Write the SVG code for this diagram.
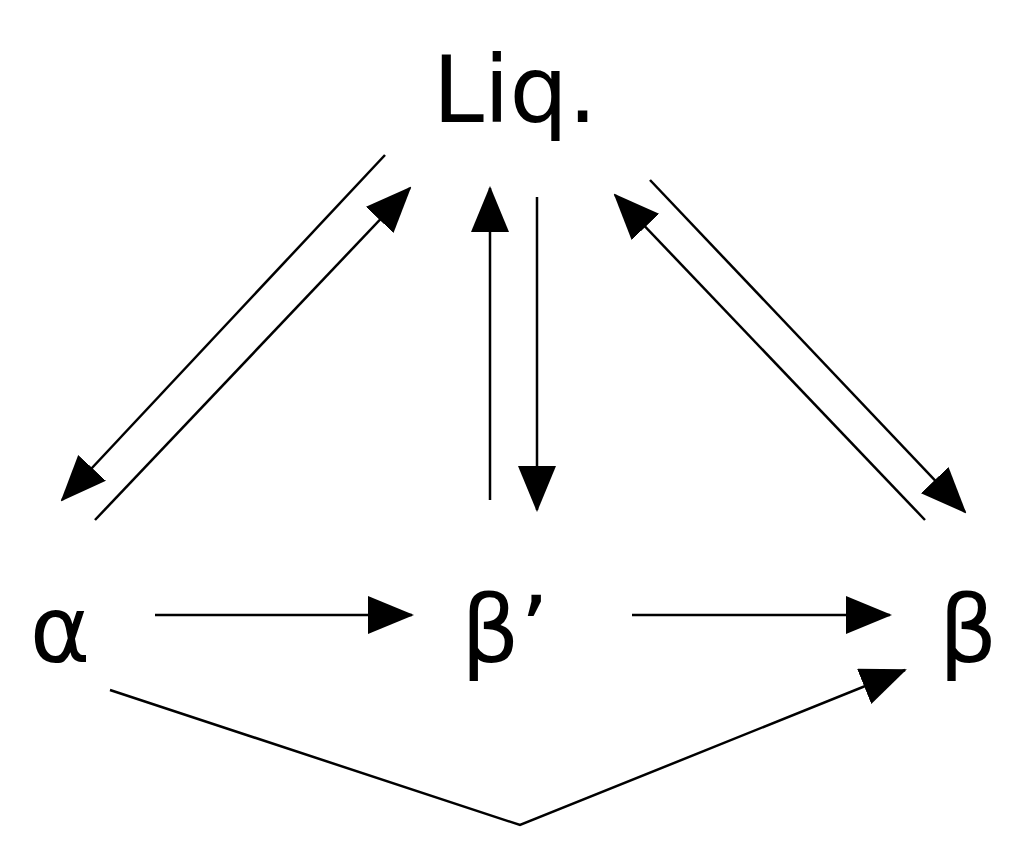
<svg xmlns="http://www.w3.org/2000/svg" width="1025" height="861" viewBox="0 0 1025 861">
<style>
text{font-family:"DejaVu Sans","Noto Sans",sans-serif;font-size:92px;fill:#000}
.c{stroke:#000;stroke-width:2.5;fill:none;marker-end:url(#a)}
</style>
<defs><marker id="a" markerUnits="userSpaceOnUse" markerWidth="46" markerHeight="40" refX="44" refY="19" orient="auto"><path d="M0,0 L46,19 L0,38 Z" fill="#000"/></marker></defs>
<rect width="1025" height="861" fill="#fff"/>
<g id="liq"><text x="515" y="122" text-anchor="middle">Liq.</text></g>
<g id="alpha"><text x="60" y="662" text-anchor="middle">α</text></g>
<g id="betap"><text x="505" y="662" text-anchor="middle">β’</text></g>
<g id="beta"><text x="968" y="662" text-anchor="middle">β</text></g>
<g id="connectors">
<path class="c" d="M385,155 L62,500"/>
<path class="c" d="M95,520 L410,188"/>
<path class="c" d="M490,500 L490,188"/>
<path class="c" d="M537,197 L537,510"/>
<path class="c" d="M925,520 L615,195"/>
<path class="c" d="M650,180 L965,512"/>
<path class="c" d="M155,615 L412,615"/>
<path class="c" d="M632,615 L890,615"/>
<path class="c" d="M110,690 L520,825 L905,670"/>
</g>
</svg>
